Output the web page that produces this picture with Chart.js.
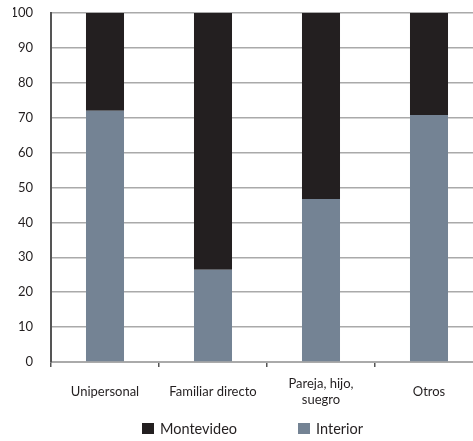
<!DOCTYPE html>
<html>
<head>
<meta charset="utf-8">
<script src="https://cdn.jsdelivr.net/npm/chart.js@4/dist/chart.umd.min.js"></script>
<style>
  html, body { margin: 0; padding: 0; background: #fff; }
  #wrap { width: 473px; height: 441px; overflow: hidden; position: relative; }
  #c { position: absolute; left: 0; top: 0; }
  #legend { position: absolute; top: 419px; left: 142px; height: 19px; display: flex; align-items: center;
            font-family: Lato, "Open Sans", sans-serif; font-size: 14.5px; color: #231f20; white-space: nowrap; }
  #legend .item { display: flex; align-items: center; }
  #legend .item + .item { margin-left: 61px; }
  #legend .box { width: 12px; height: 11px; margin-right: 6px; display: inline-block; }
</style>
</head>
<body>
<div id="wrap">
  <canvas id="c" width="510" height="441" style="width:510px;height:441px"></canvas>
  <div id="legend"></div>
</div>
<script>
// Household type categories
const categories = ['Unipersonal', 'Familiar directo', ['Pareja, hijo,', 'suegro'], 'Otros'];
// Percentage share by region (stacked to 100)
const interior = [72, 26.4, 46.7, 70.8];
const montevideo = [28, 73.6, 53.3, 29.2];
const yTicks = [0, 10, 20, 30, 40, 50, 60, 70, 80, 90, 100];

const FONT = 'Lato, "Open Sans", sans-serif';
const TEXT = '#231f20';
const COLORS = { Montevideo: '#231f20', Interior: '#748394' };

const chart = new Chart(document.getElementById('c'), {
  type: 'bar',
  data: {
    labels: categories,
    datasets: [
      { label: 'Interior', data: interior, backgroundColor: COLORS.Interior, stack: 's' },
      { label: 'Montevideo', data: montevideo, backgroundColor: COLORS.Montevideo, stack: 's' }
    ]
  },
  options: {
    responsive: false,
    animation: false,
    devicePixelRatio: 1,
    layout: { padding: { left: 13, right: 27, top: 13, bottom: 31 } },
    datasets: { bar: { categoryPercentage: 1, barPercentage: 0.352, borderWidth: 0 } },
    scales: {
      x: {
        stacked: true,
        grid: { offset: true, drawOnChartArea: false, drawTicks: true, tickLength: 5, color: '#555', lineWidth: 1.5 },
        border: { color: '#aaa', width: 2 },
        ticks: { color: TEXT, font: { family: FONT, size: 13 }, padding: 17, crossAlign: 'center', maxRotation: 0, autoSkip: false },
        afterFit: (s) => { s.height = 48; s.paddingLeft = 0; s.paddingRight = 0; }
      },
      y: {
        stacked: true,
        min: 0, max: 100,
        afterBuildTicks: (axis) => { axis.ticks = yTicks.map(v => ({ value: v })); },
        grid: { color: '#aaa', lineWidth: 1.5, drawTicks: false },
        border: { color: '#555', width: 2 },
        ticks: { color: TEXT, font: { family: FONT, size: 13 }, padding: 18 },
        afterFit: (s) => { s.width = 38; s.paddingTop = 0; s.paddingBottom = 0; }
      }
    },
    plugins: {
      legend: { display: false },
      tooltip: { enabled: false }
    }
  }
});

// Legend built from the datasets, Montevideo listed first
const legend = document.getElementById('legend');
chart.data.datasets.slice().reverse().forEach((ds) => {
  const item = document.createElement('span');
  item.className = 'item';
  const box = document.createElement('span');
  box.className = 'box';
  box.style.background = ds.backgroundColor;
  const label = document.createElement('span');
  label.textContent = ds.label;
  item.appendChild(box);
  item.appendChild(label);
  legend.appendChild(item);
});
</script>
</body>
</html>
